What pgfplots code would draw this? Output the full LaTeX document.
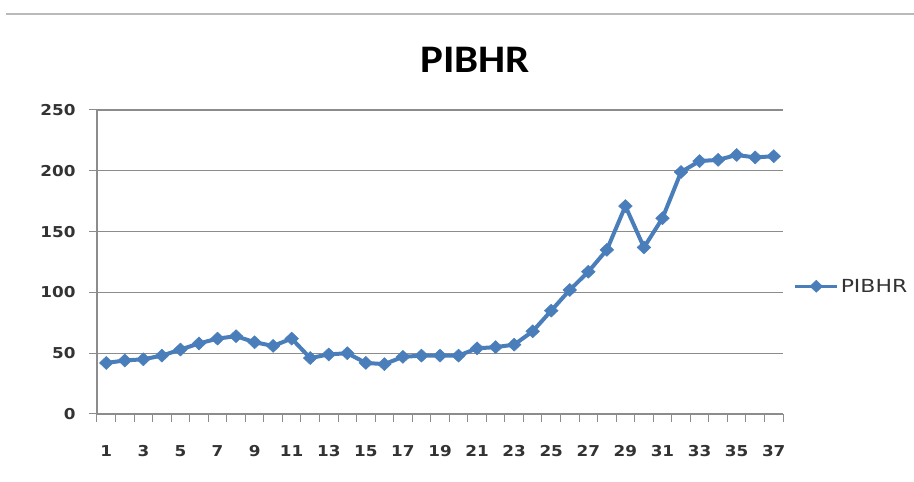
\documentclass[border=0pt]{standalone}
\usepackage{fontspec}
\setmainfont{Carlito}
\newfontfamily\tickfont{DejaVu Sans}[FakeStretch=1.12]
\newfontfamily\legfont{DejaVu Sans}[FakeStretch=1.22]
\newfontfamily\titlefont{Carlito}[FakeStretch=1.1]
\usepackage{pgfplots}
\pgfplotsset{compat=1.18}
\definecolor{serie}{HTML}{4A7EBB}
\definecolor{gridc}{HTML}{8C8C8C}
\begin{document}
\begin{tikzpicture}[x=1pt,y=1pt]
\useasboundingbox (0,0) rectangle (914,482);
\draw[gridc!60,line width=1.2pt] (6,468) -- (914,468);
\node[font=\titlefont\bfseries\fontsize{39}{42}\selectfont] at (475,422) {PIBHR};
\begin{axis}[
  at={(97pt,68pt)}, anchor=south west,
  scale only axis, width=686pt, height=304pt,
  xmin=0.5, xmax=37.5, ymin=0, ymax=250,
  xtick={1,3,...,37},
  major x tick style={draw=none},
  minor xtick={0.5,1.5,...,37.5},
  minor x tick style={gridc,line width=1pt},
  minor tick length=8pt,
  ytick={0,50,...,250},
  ymajorgrids, major grid style={gridc,line width=1.2pt},
  major y tick style={gridc,line width=1pt},
  major tick length=8pt,
  tick align=outside,
  axis x line*=bottom, axis y line*=left,
  axis line style={gridc,line width=1.2pt,-},
  tick label style={font=\tickfont\bfseries\fontsize{15}{17}\selectfont, text=black!80},
  /pgf/number format/assume math mode=true,
  xticklabel style={yshift=-20pt},
  yticklabel style={xshift=-10pt},
  legend style={at={(1.011,0.42)}, anchor=west, draw=none, fill=none,
    font=\legfont\fontsize{18}{20}\selectfont, text=black!80},
  legend cell align=left,
  legend image code/.code={
    \draw[mark repeat=2,mark phase=2,#1,line width=3pt,mark size=6pt]
      plot coordinates {(0pt,0pt) (21pt,0pt) (42pt,0pt)};
  },
]
\addplot[color=serie, line width=4pt, mark=diamond*, mark size=6.5pt,
  mark options={fill=serie, draw=serie, line width=0.5pt, xscale=1.4}] coordinates {
(1,42) (2,44) (3,45) (4,48) (5,53) (6,58) (7,62) (8,64) (9,59) (10,56)
(11,62) (12,46) (13,49) (14,50) (15,42) (16,41) (17,47) (18,48) (19,48) (20,48)
(21,54) (22,55) (23,57) (24,68) (25,85) (26,102) (27,117) (28,135) (29,171) (30,137)
(31,161) (32,199) (33,208) (34,209) (35,213) (36,211) (37,212)
};
\addlegendentry{PIBHR}
\end{axis}
\end{tikzpicture}
\end{document}
